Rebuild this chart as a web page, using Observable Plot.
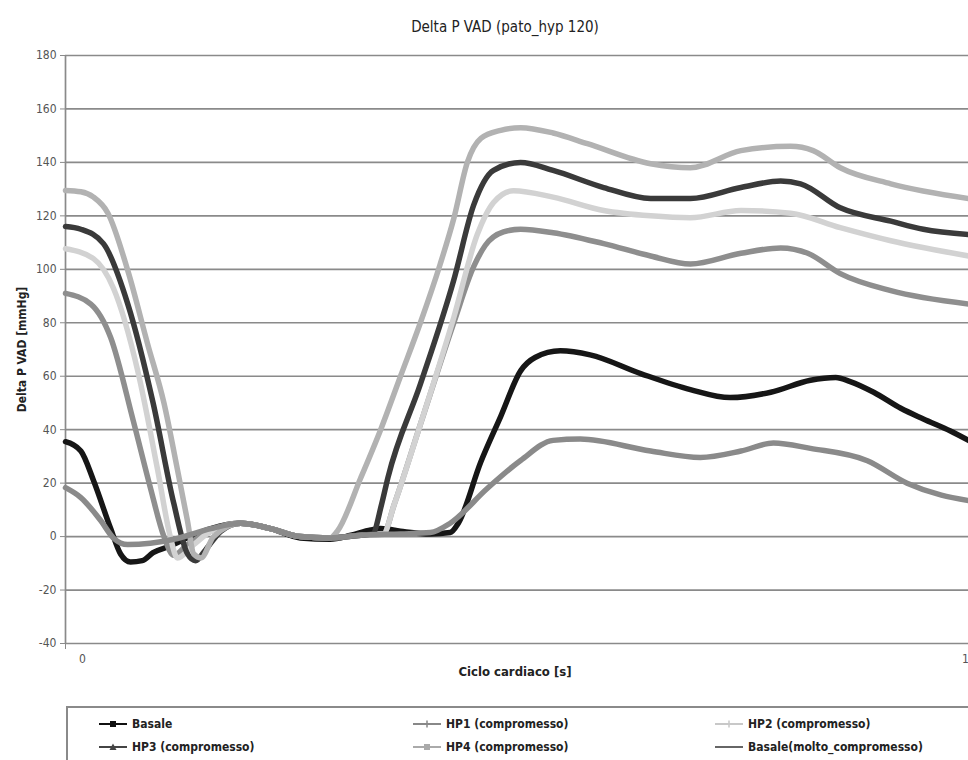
<!DOCTYPE html>
<html><head><meta charset="utf-8">
<script src="https://cdn.jsdelivr.net/npm/d3@7"></script>
<script src="https://cdn.jsdelivr.net/npm/@observablehq/plot@0.6"></script>
<style>
body{margin:0;background:#fff;}
#wrap{position:relative;width:968px;height:760px;overflow:hidden;font-family:"Liberation Sans Narrow","Arial Narrow","DejaVu Sans Condensed","DejaVu Sans",sans-serif;font-stretch:condensed;color:#222;}
#title{position:absolute;top:18px;left:0;width:1010px;text-align:center;font-size:15px;}
#chart{position:absolute;top:0;left:0;}
#xlabel{position:absolute;top:664px;left:0;width:1030px;text-align:center;font-size:13px;font-weight:bold;}
#legend{position:absolute;left:66px;top:706px;width:920px;height:80px;border:2px solid #8a8a8a;background:#fff;}
.item{position:absolute;font-size:12px;font-weight:bold;display:flex;align-items:center;white-space:nowrap;height:16px;}
.item svg{margin-right:4px;}
svg text{font-stretch:condensed;}
g[aria-label="y-axis label"] text{font-weight:bold;font-size:12px;fill:#222;}
</style>
</head><body>
<div id="wrap">
  <div id="chart"></div>
  <div id="title"></div>
  <div id="xlabel"></div>
  <div id="legend"></div>
</div>
<script>
const chartTitle = "Delta P VAD (pato_hyp 120)";
const xLabel = "Ciclo cardiaco [s]";
const yLabel = "Delta P VAD [mmHg]";
const yTicks = [-40, -20, 0, 20, 40, 60, 80, 100, 120, 140, 160, 180];
const xTickVals = [0, 1];
const xTickLabels = ["0", "1"];

const seriesNames = ["Basale", "HP1 (compromesso)", "HP2 (compromesso)", "HP3 (compromesso)", "HP4 (compromesso)", "Basale(molto_compromesso)"];
const seriesColors = ["#161616", "#8e8e8e", "#d2d2d2", "#3a3a3a", "#b2b2b2", "#8a8a8a"];

const basaleT = [0, 0.017, 0.031, 0.05, 0.061, 0.072, 0.085, 0.097, 0.116, 0.138, 0.161, 0.194, 0.227, 0.26, 0.293, 0.316, 0.338, 0.349, 0.371, 0.404, 0.426, 0.435, 0.46, 0.482, 0.504, 0.52, 0.548, 0.581, 0.637, 0.692, 0.736, 0.781, 0.825, 0.853, 0.869, 0.895, 0.925, 0.95, 0.98, 1.0];
const basaleV = [35.5, 32, 21, 3, -6.5, -9.5, -9, -6, -3.5, 0, 3, 5, 3, -0.5, -1, 0.5, 2.5, 3, 2, 1, 1.5, 5, 28, 45, 62, 67, 69.5, 68, 61, 55, 52, 54, 58.5, 59.5, 58, 54, 48, 44, 39.5, 36];

const hp1T = [0, 0.028, 0.05, 0.075, 0.094, 0.109, 0.12, 0.135, 0.161, 0.194, 0.227, 0.26, 0.293, 0.327, 0.352, 0.364, 0.393, 0.43, 0.452, 0.465, 0.485, 0.504, 0.54, 0.596, 0.648, 0.692, 0.748, 0.792, 0.822, 0.858, 0.914, 1.0];
const hp1V = [91, 87, 74.5, 43.4, 18.3, 0, -7, -3, 2, 5, 3, 0, -0.5, 0.5, 1, 12, 42, 80, 101, 109, 114, 115, 113.7, 109.6, 105, 102, 106, 108, 106, 98.4, 92, 87];

const hp2T = [0, 0.031, 0.053, 0.08, 0.102, 0.116, 0.124, 0.142, 0.161, 0.194, 0.227, 0.26, 0.293, 0.327, 0.352, 0.364, 0.393, 0.43, 0.456, 0.474, 0.496, 0.54, 0.596, 0.648, 0.692, 0.748, 0.803, 0.858, 0.914, 1.0];
const hp2V = [107.7, 104, 93, 62, 25, 0, -8, -3, 2, 5, 3, 0, -0.5, 0.5, 1, 12, 42, 82, 113, 125, 129.4, 127, 122, 120, 119.3, 122, 121, 115.6, 110.7, 105];

const hp3T = [0, 0.017, 0.042, 0.069, 0.097, 0.12, 0.135, 0.144, 0.155, 0.172, 0.194, 0.227, 0.26, 0.293, 0.327, 0.34, 0.35, 0.357, 0.393, 0.43, 0.452, 0.474, 0.504, 0.54, 0.596, 0.648, 0.692, 0.748, 0.792, 0.814, 0.858, 0.914, 0.95, 1.0];
const hp3V = [116, 115, 109.6, 87, 50, 12.3, -6.4, -9, -5, 2, 5, 3, 0, -0.5, 0.5, 1, 12, 22, 57, 96, 124, 137, 140, 137, 130.6, 126.5, 126.5, 130.6, 133, 132, 123, 118, 115, 113];

const hp4T = [0, 0.017, 0.031, 0.047, 0.069, 0.091, 0.109, 0.124, 0.135, 0.142, 0.15, 0.164, 0.194, 0.227, 0.26, 0.293, 0.301, 0.327, 0.349, 0.371, 0.393, 0.415, 0.43, 0.445, 0.46, 0.482, 0.504, 0.54, 0.578, 0.648, 0.692, 0.748, 0.803, 0.828, 0.858, 0.914, 1.0];
const hp4V = [129.5, 129, 127, 121, 99.5, 72, 50, 25, 6, -6.5, -8, 0, 5, 3, 0, -0.5, 2, 22, 40, 60, 80, 102, 119, 140, 149, 152, 153, 151, 147, 139.5, 138, 144.4, 146, 144.4, 138, 132, 126.5];

const moltoT = [0, 0.017, 0.039, 0.053, 0.069, 0.094, 0.12, 0.161, 0.194, 0.227, 0.26, 0.293, 0.327, 0.371, 0.404, 0.426, 0.467, 0.504, 0.54, 0.57, 0.648, 0.703, 0.748, 0.784, 0.825, 0.888, 0.932, 0.97, 1.0];
const moltoV = [18.3, 14.6, 6, -0.5, -3, -2.5, -1, 3, 5, 3, 0, -0.5, 0.5, 1, 1.5, 5, 18, 28.5, 36, 36.5, 32, 29.6, 32, 35, 33, 28.4, 20, 15.5, 13.5];

const seriesT = [basaleT, hp1T, hp2T, hp3T, hp4T, moltoT];
const seriesV = [basaleV, hp1V, hp2V, hp3V, hp4V, moltoV];

const rows = seriesNames.flatMap((name, i) => seriesT[i].map((t, j) => ({series: name, t, v: seriesV[i][j]})));

const fontFam = '"Liberation Sans Narrow","Arial Narrow","DejaVu Sans Condensed","DejaVu Sans",sans-serif';

const chart = Plot.plot({
  width: 968,
  height: 700,
  marginTop: 55,
  marginBottom: 57,
  marginLeft: 65,
  marginRight: 0,
  style: {fontFamily: fontFam, fontSize: "12px", color: "#555", background: "transparent"},
  x: {domain: [0, 1]},
  y: {domain: [-40, 180]},
  color: {domain: seriesNames, range: seriesColors},
  marks: [
    Plot.gridY(yTicks, {stroke: "#8a8a8a", strokeOpacity: 1, strokeWidth: 1.7}),
    Plot.ruleX([0], {stroke: "#8a8a8a", strokeWidth: 1.7}),
    Plot.axisY({ticks: yTicks, tickSize: 5, tickPadding: 4, stroke: "#8a8a8a", fill: "#555",
      tickFormat: d => String(d),
      label: yLabel, labelAnchor: "center", labelArrow: "none", labelOffset: 48}),
    Plot.axisX({ticks: xTickVals, tickSize: 6, tickFormat: () => "", stroke: "#8a8a8a", label: null}),
    Plot.text([0], {x: () => xTickVals[0], y: () => -40, text: () => xTickLabels[0], dy: 16, dx: 17, fill: "#555", fontSize: 12}),
    Plot.text([1], {x: () => xTickVals[1], y: () => -40, text: () => xTickLabels[1], dy: 16, dx: -3, fill: "#555", fontSize: 12}),
    Plot.line(rows, {x: "t", y: "v", z: "series", stroke: "series", strokeWidth: 5.5, curve: "monotone-x", strokeLinejoin: "round", strokeLinecap: "round"})
  ]
});
document.getElementById("chart").appendChild(chart);
document.getElementById("title").textContent = chartTitle;
document.getElementById("xlabel").textContent = xLabel;

// legend
const legendMarkers = ["square", "plus", "plus", "triangle", "square", "none"];
const legendPos = [[30, 8], [344, 8], [646, 8], [30, 31], [344, 31], [646, 31]];
const legendSwatchColors = ["#111", "#888", "#c8c8c8", "#444", "#aaa", "#666"];
const legend = document.getElementById("legend");
seriesNames.forEach((name, i) => {
  const it = document.createElement("div");
  it.className = "item";
  it.style.left = legendPos[i][0] + "px";
  it.style.top = legendPos[i][1] + "px";
  const c = legendSwatchColors[i];
  let mk = "";
  if (legendMarkers[i] === "square") mk = `<rect x="12" y="4" width="6" height="6" fill="${c}"/>`;
  if (legendMarkers[i] === "plus") mk = `<path d="M15 3.5V10.5M11.5 7H18.5" stroke="${c}" stroke-width="1.5"/>`;
  if (legendMarkers[i] === "triangle") mk = `<path d="M15 3.5L18.5 10H11.5Z" fill="${c}"/>`;
  it.innerHTML = `<svg width="30" height="14"><line x1="1" y1="7" x2="29" y2="7" stroke="${c}" stroke-width="2"/>${mk}</svg><span>${name}</span>`;
  legend.appendChild(it);
});
</script>
</body></html>
